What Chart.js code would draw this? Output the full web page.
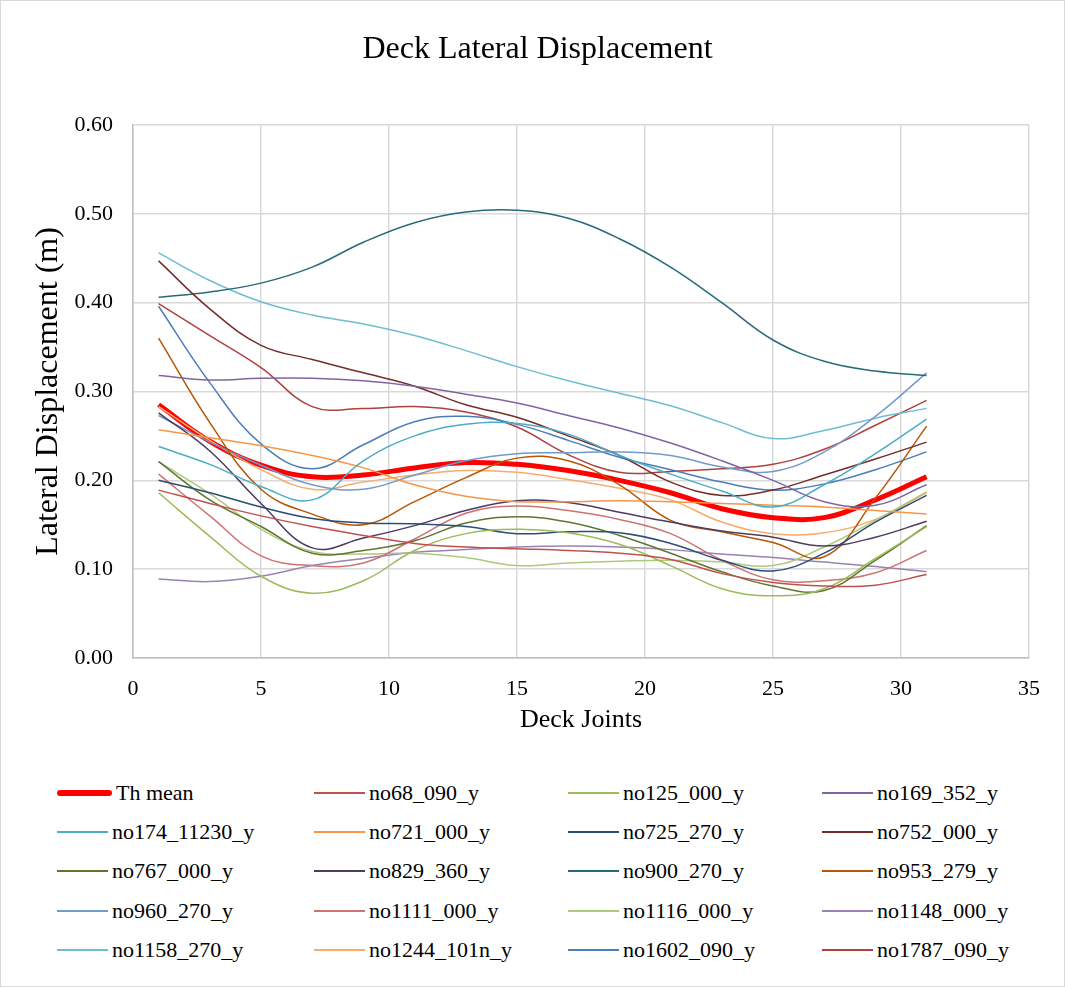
<!DOCTYPE html>
<html>
<head>
<meta charset="utf-8">
<title>Deck Lateral Displacement</title>
<script src="https://cdn.jsdelivr.net/npm/chart.js@4.4.1/dist/chart.umd.min.js"></script>
<style>
    html, body { margin: 0; padding: 0; background: #fff; }
    #wrap {
        position: relative;
        width: 1063px;
        height: 985px;
        border: 1px solid #d9d9d9;
        font-family: 'Liberation Serif', 'Times New Roman', serif;
    }
    #chartTitle {
        position: absolute;
        left: 0;
        top: 26px;
        width: 1073px;
        line-height: 40px;
        text-align: center;
        font-size: 32px;
        color: #000;
    }
    #deckChart { position: absolute; left: 0; top: 0; }
    #legend {
        position: absolute;
        left: 56px;
        top: 772px;
        display: grid;
        grid-template-columns: 257px 254px 254px 254px;
        grid-auto-rows: 39.3px;
    }
    .legend-item { display: flex; align-items: center; font-size: 22px; color: #000; white-space: nowrap; }
    .legend-line { width: 51px; height: 0; border-top: 2px solid; margin-right: 4px; }
    .legend-line.thick { width: 55px; border-top-width: 6px; border-radius: 3px; }
</style>
</head>
<body>
<div id="wrap">
    <canvas id="deckChart" width="1063" height="770"></canvas>
    <div id="chartTitle">Deck Lateral Displacement</div>
    <div id="legend"></div>
</div>
<script>
// Deck joints where values were read (x axis)
const joints = [1, 3, 5, 7, 9, 11, 13, 15, 17, 19, 21, 23, 25, 27, 29, 31];

// Lateral displacement (m) per record
const thMean      = [0.285, 0.244, 0.217, 0.204, 0.206, 0.214, 0.220, 0.218, 0.211, 0.200, 0.186, 0.168, 0.158, 0.158, 0.178, 0.204];
const no68_090    = [0.189, 0.174, 0.160, 0.148, 0.138, 0.129, 0.125, 0.123, 0.121, 0.118, 0.111, 0.095, 0.085, 0.081, 0.082, 0.094];
const no125_000   = [0.186, 0.137, 0.092, 0.073, 0.087, 0.121, 0.140, 0.145, 0.141, 0.128, 0.104, 0.078, 0.070, 0.078, 0.112, 0.148];
const no169_352   = [0.318, 0.313, 0.315, 0.315, 0.312, 0.306, 0.297, 0.287, 0.273, 0.259, 0.242, 0.222, 0.200, 0.176, 0.172, 0.195];
const no174_11230 = [0.238, 0.218, 0.193, 0.178, 0.222, 0.250, 0.263, 0.264, 0.252, 0.228, 0.207, 0.188, 0.170, 0.195, 0.230, 0.269];
const no721_000   = [0.257, 0.248, 0.239, 0.228, 0.214, 0.195, 0.182, 0.176, 0.176, 0.177, 0.176, 0.174, 0.172, 0.170, 0.166, 0.162];
const no725_270   = [0.200, 0.186, 0.170, 0.157, 0.152, 0.151, 0.148, 0.140, 0.142, 0.141, 0.129, 0.110, 0.098, 0.118, 0.153, 0.183];
const no752_000   = [0.447, 0.393, 0.352, 0.336, 0.321, 0.306, 0.285, 0.271, 0.250, 0.228, 0.198, 0.183, 0.189, 0.206, 0.224, 0.243];
const no767_000   = [0.221, 0.178, 0.148, 0.118, 0.121, 0.132, 0.152, 0.159, 0.153, 0.138, 0.118, 0.097, 0.081, 0.076, 0.110, 0.149];
const no829_360   = [0.276, 0.233, 0.174, 0.124, 0.135, 0.149, 0.166, 0.177, 0.175, 0.164, 0.153, 0.143, 0.136, 0.126, 0.136, 0.154];
const no900_270   = [0.406, 0.412, 0.422, 0.440, 0.468, 0.490, 0.502, 0.504, 0.495, 0.472, 0.440, 0.400, 0.358, 0.334, 0.323, 0.318];
const no953_279   = [0.360, 0.265, 0.190, 0.162, 0.150, 0.176, 0.203, 0.225, 0.222, 0.195, 0.155, 0.142, 0.130, 0.114, 0.180, 0.261];
const no960_270   = [0.273, 0.243, 0.217, 0.195, 0.190, 0.206, 0.222, 0.230, 0.231, 0.232, 0.228, 0.215, 0.210, 0.232, 0.272, 0.321];
const no1111_000  = [0.207, 0.160, 0.115, 0.104, 0.107, 0.134, 0.163, 0.171, 0.166, 0.156, 0.140, 0.110, 0.088, 0.087, 0.096, 0.121];
const no1116_000  = [0.221, 0.185, 0.145, 0.120, 0.117, 0.118, 0.113, 0.104, 0.107, 0.109, 0.110, 0.108, 0.104, 0.125, 0.155, 0.187];
const no1148_000  = [0.089, 0.086, 0.092, 0.104, 0.112, 0.119, 0.122, 0.125, 0.126, 0.125, 0.122, 0.117, 0.113, 0.108, 0.103, 0.097];
const no1158_270  = [0.456, 0.425, 0.401, 0.386, 0.376, 0.363, 0.346, 0.328, 0.312, 0.298, 0.284, 0.265, 0.247, 0.256, 0.270, 0.281];
const no1244_101n = [0.283, 0.245, 0.212, 0.190, 0.198, 0.206, 0.211, 0.209, 0.201, 0.191, 0.178, 0.153, 0.140, 0.141, 0.156, 0.186];
const no1602_090  = [0.396, 0.310, 0.241, 0.213, 0.240, 0.266, 0.272, 0.263, 0.245, 0.226, 0.212, 0.198, 0.189, 0.196, 0.212, 0.232];
const no1787_090  = [0.399, 0.363, 0.327, 0.283, 0.281, 0.283, 0.277, 0.260, 0.229, 0.209, 0.210, 0.213, 0.218, 0.235, 0.262, 0.290];

// Axis ticks
const xTicks = [0, 5, 10, 15, 20, 25, 30, 35];
const yTicks = [0.0, 0.1, 0.2, 0.3, 0.4, 0.5, 0.6];

// Series list: [label, values, colour]
const series = [
    ['Th mean', thMean, '#FF0000'],
    ['no68_090_y', no68_090, '#C0504D'],
    ['no125_000_y', no125_000, '#9BBB59'],
    ['no169_352_y', no169_352, '#8064A2'],
    ['no174_11230_y', no174_11230, '#4BACC6'],
    ['no721_000_y', no721_000, '#F79646'],
    ['no725_270_y', no725_270, '#2C4D75'],
    ['no752_000_y', no752_000, '#772C2A'],
    ['no767_000_y', no767_000, '#5F7530'],
    ['no829_360_y', no829_360, '#4D3B62'],
    ['no900_270_y', no900_270, '#276A7C'],
    ['no953_279_y', no953_279, '#B65708'],
    ['no960_270_y', no960_270, '#729ACA'],
    ['no1111_000_y', no1111_000, '#CD7371'],
    ['no1116_000_y', no1116_000, '#AFC97A'],
    ['no1148_000_y', no1148_000, '#9983B5'],
    ['no1158_270_y', no1158_270, '#6FBDD1'],
    ['no1244_101n_y', no1244_101n, '#F9AB6B'],
    ['no1602_090_y', no1602_090, '#4A7EBB'],
    ['no1787_090_y', no1787_090, '#B0403D']
];

const serifFont = "'Liberation Serif', 'Times New Roman', serif";

/**
 * Build one line dataset from a values array
 */
function makeDataset(label, values, color, idx) {
    const isMean = idx === 0;
    return {
        label: label,
        data: values.map((v, i) => ({ x: joints[i], y: v })),
        borderColor: color,
        backgroundColor: color,
        borderWidth: isMean ? 5 : 1.5,
        pointRadius: 0,
        tension: 0.4,
        fill: false,
        // mean is drawn first so the records sit on top of it
        order: isMean ? 1 : 0
    };
}

/**
 * Legend as a 4 column grid below the chart
 */
function buildLegend() {
    const box = document.getElementById('legend');
    series.forEach(([label, , color], idx) => {
        const item = document.createElement('div');
        item.className = 'legend-item';
        const line = document.createElement('span');
        line.className = idx === 0 ? 'legend-line thick' : 'legend-line';
        line.style.borderTopColor = color;
        const text = document.createElement('span');
        text.textContent = label;
        item.appendChild(line);
        item.appendChild(text);
        box.appendChild(item);
    });
}

function initDeckChart() {
    const ctx = document.getElementById('deckChart');

    new Chart(ctx.getContext('2d'), {
        type: 'line',
        data: {
            datasets: series.map(([label, values, color], idx) => makeDataset(label, values, color, idx))
        },
        options: {
            responsive: false,
            animation: false,
            layout: {
                padding: { left: 0, right: 35, top: 124, bottom: 0 }
            },
            plugins: {
                legend: { display: false },
                tooltip: { enabled: false },
                title: { display: false }
            },
            scales: {
                x: {
                    type: 'linear',
                    min: xTicks[0],
                    max: xTicks[xTicks.length - 1],
                    afterBuildTicks: function(scale) {
                        scale.ticks = xTicks.map(v => ({ value: v }));
                    },
                    afterFit: function(scale) {
                        scale.height = 113;
                    },
                    grid: {
                        color: '#d9d9d9',
                        lineWidth: 1.5,
                        drawTicks: false
                    },
                    border: { color: '#bfbfbf', width: 1.5 },
                    ticks: {
                        color: '#000',
                        padding: 18,
                        font: { family: serifFont, size: 22 }
                    },
                    title: {
                        display: true,
                        text: 'Deck Joints',
                        color: '#000',
                        font: { family: serifFont, size: 26 },
                        padding: { top: 0, bottom: 35 }
                    }
                },
                y: {
                    min: yTicks[0],
                    max: yTicks[yTicks.length - 1],
                    afterBuildTicks: function(scale) {
                        scale.ticks = yTicks.map(v => ({ value: v }));
                    },
                    afterFit: function(scale) {
                        scale.width = 132;
                    },
                    grid: {
                        color: '#d9d9d9',
                        lineWidth: 1.5,
                        drawTicks: false
                    },
                    border: { color: '#bfbfbf', width: 1.5 },
                    ticks: {
                        color: '#000',
                        padding: 20,
                        font: { family: serifFont, size: 22 },
                        callback: function(value) {
                            return Number(value).toFixed(2);
                        }
                    },
                    title: {
                        display: true,
                        text: 'Lateral Displacement (m)',
                        color: '#000',
                        font: { family: serifFont, size: 32 },
                        padding: { top: 28, bottom: 0 }
                    }
                }
            }
        }
    });
}

buildLegend();
initDeckChart();
</script>
</body>
</html>
